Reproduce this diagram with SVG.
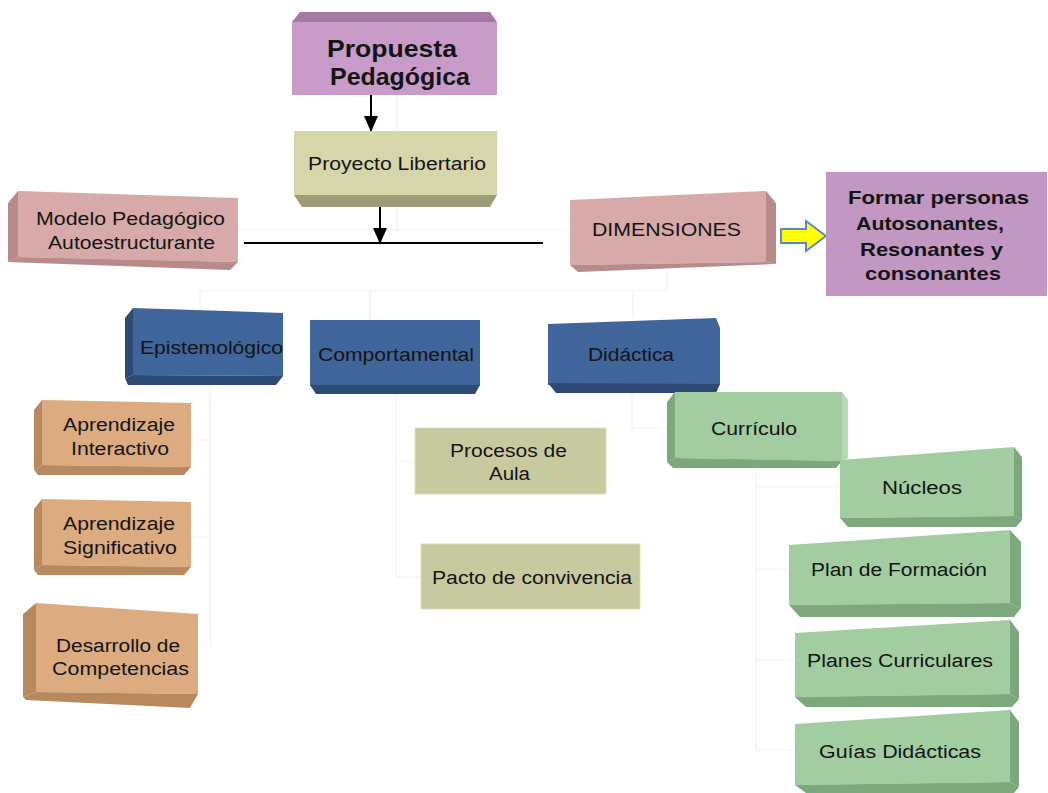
<svg xmlns="http://www.w3.org/2000/svg" width="1048" height="793" viewBox="0 0 1048 793">
<style>
text{font-family:"Liberation Sans",Arial,sans-serif;fill:#141414;text-anchor:middle;font-size:18px}
.big{font-size:23px;font-weight:bold}
.fm{font-size:19px;font-weight:bold}
.faint{stroke:#f1f1f1;stroke-width:1.2;fill:none}
.blk{stroke:#000;stroke-width:2;fill:none}
.pk{fill:#d8a9a9}.pkd{fill:#b88b8b}
.pu{fill:#c99bc9}.pud{fill:#a47aa4}
.ol{fill:#d6d6aa}.old{fill:#9c9c7a}
.bl{fill:#3f659a}.bld{fill:#2c4a74}
.or{fill:#dcab80}.ord{fill:#b7895f}
.gr{fill:#a1cda1}.grd{fill:#7da77d}
</style>
<defs>
<marker id="ah" viewBox="0 0 16 14" refX="15" refY="7" markerWidth="16" markerHeight="14" markerUnits="userSpaceOnUse" orient="auto"><path d="M0,0 L16,7 L0,14 z" fill="#000"/></marker>
</defs>
<rect width="1048" height="793" fill="#fff"/>
<g id="connectors">
<path class="faint" d="M397,95 V131 M397,207 V230 H230 M397,230 H568 M667,270 V291 H200 V308 M370,291 V320 M633,291 V318"/>
<path class="faint" d="M210,385 V645 H198 M210,440 H191 M210,537 H191"/>
<path class="faint" d="M396,394 V577 H421 M396,461 H415"/>
<path class="faint" d="M632,393 V428 H667"/>
<path class="faint" d="M756,468 V750 H795 M756,487 H840 M756,569 H789 M756,660 H795"/>
<path class="blk" d="M371,95 V131" marker-end="url(#ah)"/>
<path class="blk" d="M380,195 V243" marker-end="url(#ah)"/>
<path class="blk" d="M244,243 H543"/>
<polygon points="781,229 806,229 806,221 826,236 806,251 806,243 781,243" fill="#ffff00" stroke="#5b8bc0" stroke-width="2"/>
</g>
<g id="n-propuesta">
<polygon class="pud" points="292,22 300,12 490,12 497,22"/>
<rect class="pu" x="292" y="22" width="205" height="73"/>
<text class="big" x="392" y="57" textLength="130" lengthAdjust="spacingAndGlyphs">Propuesta</text>
<text class="big" x="400" y="85" textLength="140" lengthAdjust="spacingAndGlyphs">Pedagógica</text>
</g>
<g id="n-proyecto">
<rect class="ol" x="294" y="131" width="203" height="65"/>
<polygon class="old" points="294,195 497,195 490,207 302,207"/>
<text x="397" y="170" textLength="178" lengthAdjust="spacingAndGlyphs">Proyecto Libertario</text>
</g>
<g id="n-modelo">
<polygon class="pkd" points="8,203 18,191 18,257 8,262"/>
<polygon class="pk" points="18,191 238,198 238,262 18,257"/>
<polygon class="pkd" points="8,262 18,257 238,262 230,270 8,262"/>
<text x="130.5" y="225" textLength="189" lengthAdjust="spacingAndGlyphs">Modelo Pedagógico</text>
<text x="131.5" y="249" textLength="167" lengthAdjust="spacingAndGlyphs">Autoestructurante</text>
</g>
<g id="n-dimensiones">
<polygon class="pk" points="570,200 766,191 766,262 570,265"/>
<polygon class="pkd" points="766,191 776,203 776,264 766,262"/>
<polygon class="pkd" points="570,265 766,262 776,264 578,272"/>
<text x="666.5" y="236" textLength="149" lengthAdjust="spacingAndGlyphs">DIMENSIONES</text>
</g>
<g id="n-formar">
<rect x="826" y="172" width="221" height="124" fill="#c297c1"/>
<text class="fm" x="938.5" y="204" textLength="181" lengthAdjust="spacingAndGlyphs">Formar personas</text>
<text class="fm" x="930" y="230" textLength="148" lengthAdjust="spacingAndGlyphs">Autosonantes,</text>
<text class="fm" x="931.5" y="256" textLength="143" lengthAdjust="spacingAndGlyphs">Resonantes y</text>
<text class="fm" x="933" y="280" textLength="136" lengthAdjust="spacingAndGlyphs">consonantes</text>
</g>
<g id="n-epistemologico">
<polygon class="bld" points="125,318 133,308 133,375 125,378"/>
<polygon class="bl" points="133,308 283,313 283,376 133,375"/>
<polygon class="bld" points="125,378 133,375 283,376 276,385 128,385"/>
<text x="211.5" y="354" textLength="143" lengthAdjust="spacingAndGlyphs">Epistemológico</text>
</g>
<g id="n-comportamental">
<rect class="bl" x="310" y="320" width="170" height="66"/>
<polygon class="bld" points="310,385 480,385 475,394 316,394"/>
<text x="396" y="361" textLength="156" lengthAdjust="spacingAndGlyphs">Comportamental</text>
</g>
<g id="n-didactica">
<polygon class="bl" points="548,324 716,318 720,328 720,385 548,385"/>
<polygon class="bld" points="548,383 720,384 716,393 556,393"/>
<text x="631" y="361" textLength="86" lengthAdjust="spacingAndGlyphs">Didáctica</text>
</g>
<g id="n-ap-interactivo">
<polygon class="ord" points="34,410 42,400 42,465 34,470"/>
<polygon class="or" points="42,400 191,403 191,467 42,465"/>
<polygon class="ord" points="34,470 42,465 191,467 184,475 38,475"/>
<text x="119" y="431" textLength="112" lengthAdjust="spacingAndGlyphs">Aprendizaje</text>
<text x="120" y="455" textLength="98" lengthAdjust="spacingAndGlyphs">Interactivo</text>
</g>
<g id="n-ap-significativo">
<polygon class="ord" points="34,509 42,499 42,565 34,570"/>
<polygon class="or" points="42,499 191,502 191,567 42,565"/>
<polygon class="ord" points="34,570 42,565 191,567 184,575 38,575"/>
<text x="119" y="530" textLength="112" lengthAdjust="spacingAndGlyphs">Aprendizaje</text>
<text x="120" y="554" textLength="114" lengthAdjust="spacingAndGlyphs">Significativo</text>
</g>
<g id="n-desarrollo">
<polygon class="ord" points="23,614 36,603 36,692 23,697"/>
<polygon class="or" points="36,603 198,614 198,694 36,692"/>
<polygon class="ord" points="23,697 36,692 198,694 190,708 26,700"/>
<text x="118" y="652" textLength="124" lengthAdjust="spacingAndGlyphs">Desarrollo de</text>
<text x="120.5" y="675" textLength="137" lengthAdjust="spacingAndGlyphs">Competencias</text>
</g>
<g id="n-procesos">
<rect x="415" y="428" width="191" height="66" fill="#c9c9a0" stroke="#ddddb8"/>
<text x="508.5" y="457" textLength="117" lengthAdjust="spacingAndGlyphs">Procesos de</text>
<text x="509.5" y="480" textLength="41" lengthAdjust="spacingAndGlyphs">Aula</text>
</g>
<g id="n-pacto">
<rect x="421" y="544" width="219" height="65" fill="#c9c9a0" stroke="#ddddb8"/>
<text x="532" y="584" textLength="200" lengthAdjust="spacingAndGlyphs">Pacto de convivencia</text>
</g>
<g id="n-curriculo">
<polygon class="grd" points="667,402 675,392 675,458 667,462"/>
<polygon class="gr" points="675,392 842,392 842,461 675,458"/>
<polygon fill="#b6d9b6" points="842,392 848,400 848,458 842,461"/>
<polygon class="grd" points="667,462 675,458 842,461 836,468 673,468"/>
<text x="754" y="435" textLength="86" lengthAdjust="spacingAndGlyphs">Currículo</text>
</g>
<g id="n-nucleos">
<polygon class="gr" points="840,460 1014,447 1014,516 840,518"/>
<polygon class="grd" points="1014,447 1022,457 1022,520 1014,516"/>
<polygon class="grd" points="840,518 1014,516 1022,520 1016,527 848,527"/>
<text x="922" y="494" textLength="80" lengthAdjust="spacingAndGlyphs">Núcleos</text>
</g>
<g id="n-plan-formacion">
<polygon class="gr" points="789,545 1010,530 1010,603 789,605"/>
<polygon class="grd" points="1010,530 1021,542 1021,608 1010,603"/>
<polygon class="grd" points="789,605 1010,603 1021,608 1014,617 800,617"/>
<text x="899" y="576" textLength="176" lengthAdjust="spacingAndGlyphs">Plan de Formación</text>
</g>
<g id="n-planes">
<polygon class="gr" points="795,633 1010,620 1010,694 795,697"/>
<polygon class="grd" points="1010,620 1019,632 1019,699 1010,694"/>
<polygon class="grd" points="795,697 1010,694 1019,699 1012,707 806,707"/>
<text x="900" y="667" textLength="186" lengthAdjust="spacingAndGlyphs">Planes Curriculares</text>
</g>
<g id="n-guias">
<polygon class="gr" points="795,724 1010,710 1010,782 795,785"/>
<polygon class="grd" points="1010,710 1019,722 1019,787 1010,782"/>
<polygon class="grd" points="795,785 1010,782 1019,787 1014,793 806,793"/>
<text x="900" y="758" textLength="162" lengthAdjust="spacingAndGlyphs">Guías Didácticas</text>
</g>
</svg>
